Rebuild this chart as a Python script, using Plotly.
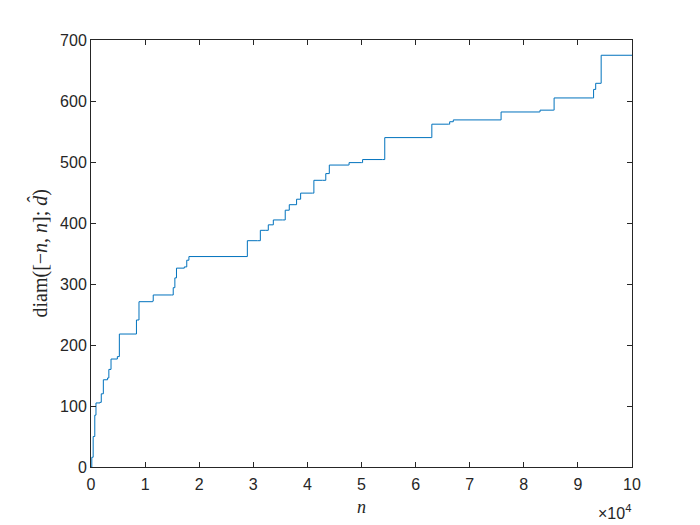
import plotly.graph_objects as go

n_vals = [0, 150, 400, 700, 920, 1660, 1900, 2280, 3060, 3300, 3700, 4870, 5240, 8130, 8400, 8870,
          11400, 11500, 14900, 15200, 15500, 15800, 17250, 17700, 18100, 28650, 28900, 30750,
          31300, 32200, 32770, 33700, 35400, 35900, 36650, 37700, 38000, 38750, 40960, 41200,
          42800, 43400, 44050, 47560, 47700, 50030, 50200, 53900, 54300, 62970, 63000, 66050,
          66300, 66970, 75600, 75800, 82870, 83000, 85450, 85600, 92730, 92900, 93290, 94090,
          94300, 100000]
diam_vals = [0, 16, 50, 85, 105, 106, 120, 143, 146, 160, 177, 181, 218, 218, 241, 271,
             272, 282, 282, 294, 310, 326, 328, 339, 345, 345, 371, 371,
             388, 388, 397, 405, 405, 421, 430, 430, 439, 449, 449, 470,
             470, 481, 495, 495, 499, 499, 504, 504, 540, 540, 562, 562,
             566, 569, 569, 582, 582, 585, 585, 605, 605, 619, 629, 629,
             675, 675]

x_ticks = [0, 10000, 20000, 30000, 40000, 50000, 60000, 70000, 80000, 90000, 100000]
x_tick_labels = ["0", "1", "2", "3", "4", "5", "6", "7", "8", "9", "10"]
y_ticks = [0, 100, 200, 300, 400, 500, 600, 700]

fig = go.Figure()
fig.add_trace(go.Scatter(x=n_vals, y=diam_vals, mode="lines", line=dict(color="#0072BD", width=1, shape="hv"),
                         showlegend=False, hoverinfo="skip"))

tick_font = dict(family="Liberation Sans, Arial", size=16, color="#262626")
axis_common = dict(showline=True, linecolor="#262626", linewidth=1, mirror="allticks", ticks="inside",
                   ticklen=5, tickcolor="#262626", showgrid=False, zeroline=False,
                   tickfont=tick_font, automargin=False)

W, H = 700, 525
l, r, t, b = 91, 68, 40, 58
pw, ph = W - l - r, H - t - b

fig.update_layout(
    width=W, height=H,
    paper_bgcolor="white", plot_bgcolor="white",
    margin=dict(l=l, r=r, t=t, b=b),
    xaxis=dict(range=[0, 100000], tickvals=x_ticks, ticktext=x_tick_labels, ticklabelstandoff=3, **axis_common),
    yaxis=dict(range=[0, 700], tickvals=y_ticks, **axis_common),
    annotations=[
        dict(text="<i>n</i>", xref="paper", yref="paper", x=0.5, y=-(507 - (H - b)) / ph,
             xanchor="center", yanchor="middle", showarrow=False,
             font=dict(family="Liberation Serif, Times New Roman", size=18, color="#262626")),
        dict(text="diam([−<i>n</i>, <i>n</i>]; <i>d̂</i>)", xref="paper", yref="paper",
             x=(39 - l) / pw, y=0.5, xanchor="center", yanchor="middle", showarrow=False,
             textangle=-90, font=dict(family="Liberation Serif, Times New Roman", size=20, color="#262626")),
        dict(text="×10<sup>4</sup>", xref="paper", yref="paper",
             x=(614 - l) / pw, y=-(512 - (H - b)) / ph, xanchor="center", yanchor="middle", showarrow=False,
             font=dict(family="Liberation Sans, Arial", size=16, color="#262626")),
    ],
)

fig.write_html("out.html", config={"displayModeBar": False},
               post_script="document.body.style.margin='0';document.body.style.padding='0';")
